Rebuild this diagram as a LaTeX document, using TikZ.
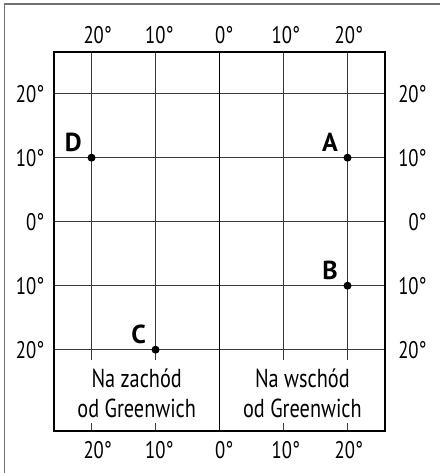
\documentclass[tikz,border=0pt]{standalone}
\usepackage{fontspec}
\setmainfont{PT Sans}[FakeStretch=0.78]
\newfontfamily\letterfont{PT Sans}
\usetikzlibrary{positioning}
\definecolor{gridgray}{HTML}{383838}
\definecolor{boxgray}{HTML}{707070}

\begin{document}
\begin{tikzpicture}[x=6.4pt,y=6.4pt,
  gridline/.style={draw=gridgray,line width=1.2pt},
  frame/.style={draw=black,line width=2.4pt},
  deg/.style={font=\fontsize{24}{28}\selectfont,inner sep=0pt},
  place/.style={circle,fill=black,inner sep=0pt,minimum size=8pt},
  ptname/.style={font=\letterfont\bfseries\fontsize{26}{30}\selectfont,inner sep=0pt},
  side/.style={font=\fontsize{26}{30}\selectfont,align=center,inner sep=0pt}]
\useasboundingbox (-34.3,-39.27) rectangle (34.45,34.64);
\clip (-34.3,-39.27) rectangle (34.45,34.64);
% outer box, cut by the page
\draw[boxgray,line width=1.5pt] (-33.56,-45) |- (40,34.0);
% grid
\foreach \y in {-20,-10,0,10,20}
  \draw[gridline] (-25.9,\y) -- (25.9,\y);
\foreach \x in {-20,-10,10,20} {
  \draw[gridline] (\x,26.5) -- (\x,-21.6);
  \draw[gridline] (\x,-31.5) -- (\x,-32.66);
}
\draw[line width=1.8pt] (0,26.5) -- (0,-32.66);
\draw[frame] (-25.9,-32.66) rectangle (25.9,26.5);
% degree labels
\foreach \x/\d/\t in {-20/0.97/20,-10/0.6/10,0/0.75/0,10/0.36/10,20/0.22/20} {
  \node[deg] (top\x) at (\x+\d,29.17) {\t°};
  \node[deg] (bot\x) at (\x+\d,-35.67) {\t°};
}
\foreach \y/\t in {20/20,10/10,0/0,-10/10,-20/20} {
  \node[deg,anchor=east] (left\y) at (-27.34,\y) {\t°};
  \node[deg,anchor=east] (right\y) at (32.4,\y) {\t°};
}
% points
\node[place] (A) at (20,10) {};
\node[place] (B) at (20,-10) {};
\node[place] (C) at (-10,-20) {};
\node[place] (D) at (-20,10) {};
\node[ptname,above left=5.5pt and 9.5pt of A.center] (nameA) {A};
\node[ptname,above left=5.5pt and 9.5pt of B.center] (nameB) {B};
\node[ptname,above left=5.5pt and 9.5pt of C.center] (nameC) {C};
\node[ptname,above left=5.5pt and 9.5pt of D.center] (nameD) {D};
% hemispheres
\node[side] (west) at (-12.94,-26.77) {Na zachód\\od Greenwich};
\node[side] (east) at (12.95,-26.77) {Na wschód\\od Greenwich};
\end{tikzpicture}
\end{document}
